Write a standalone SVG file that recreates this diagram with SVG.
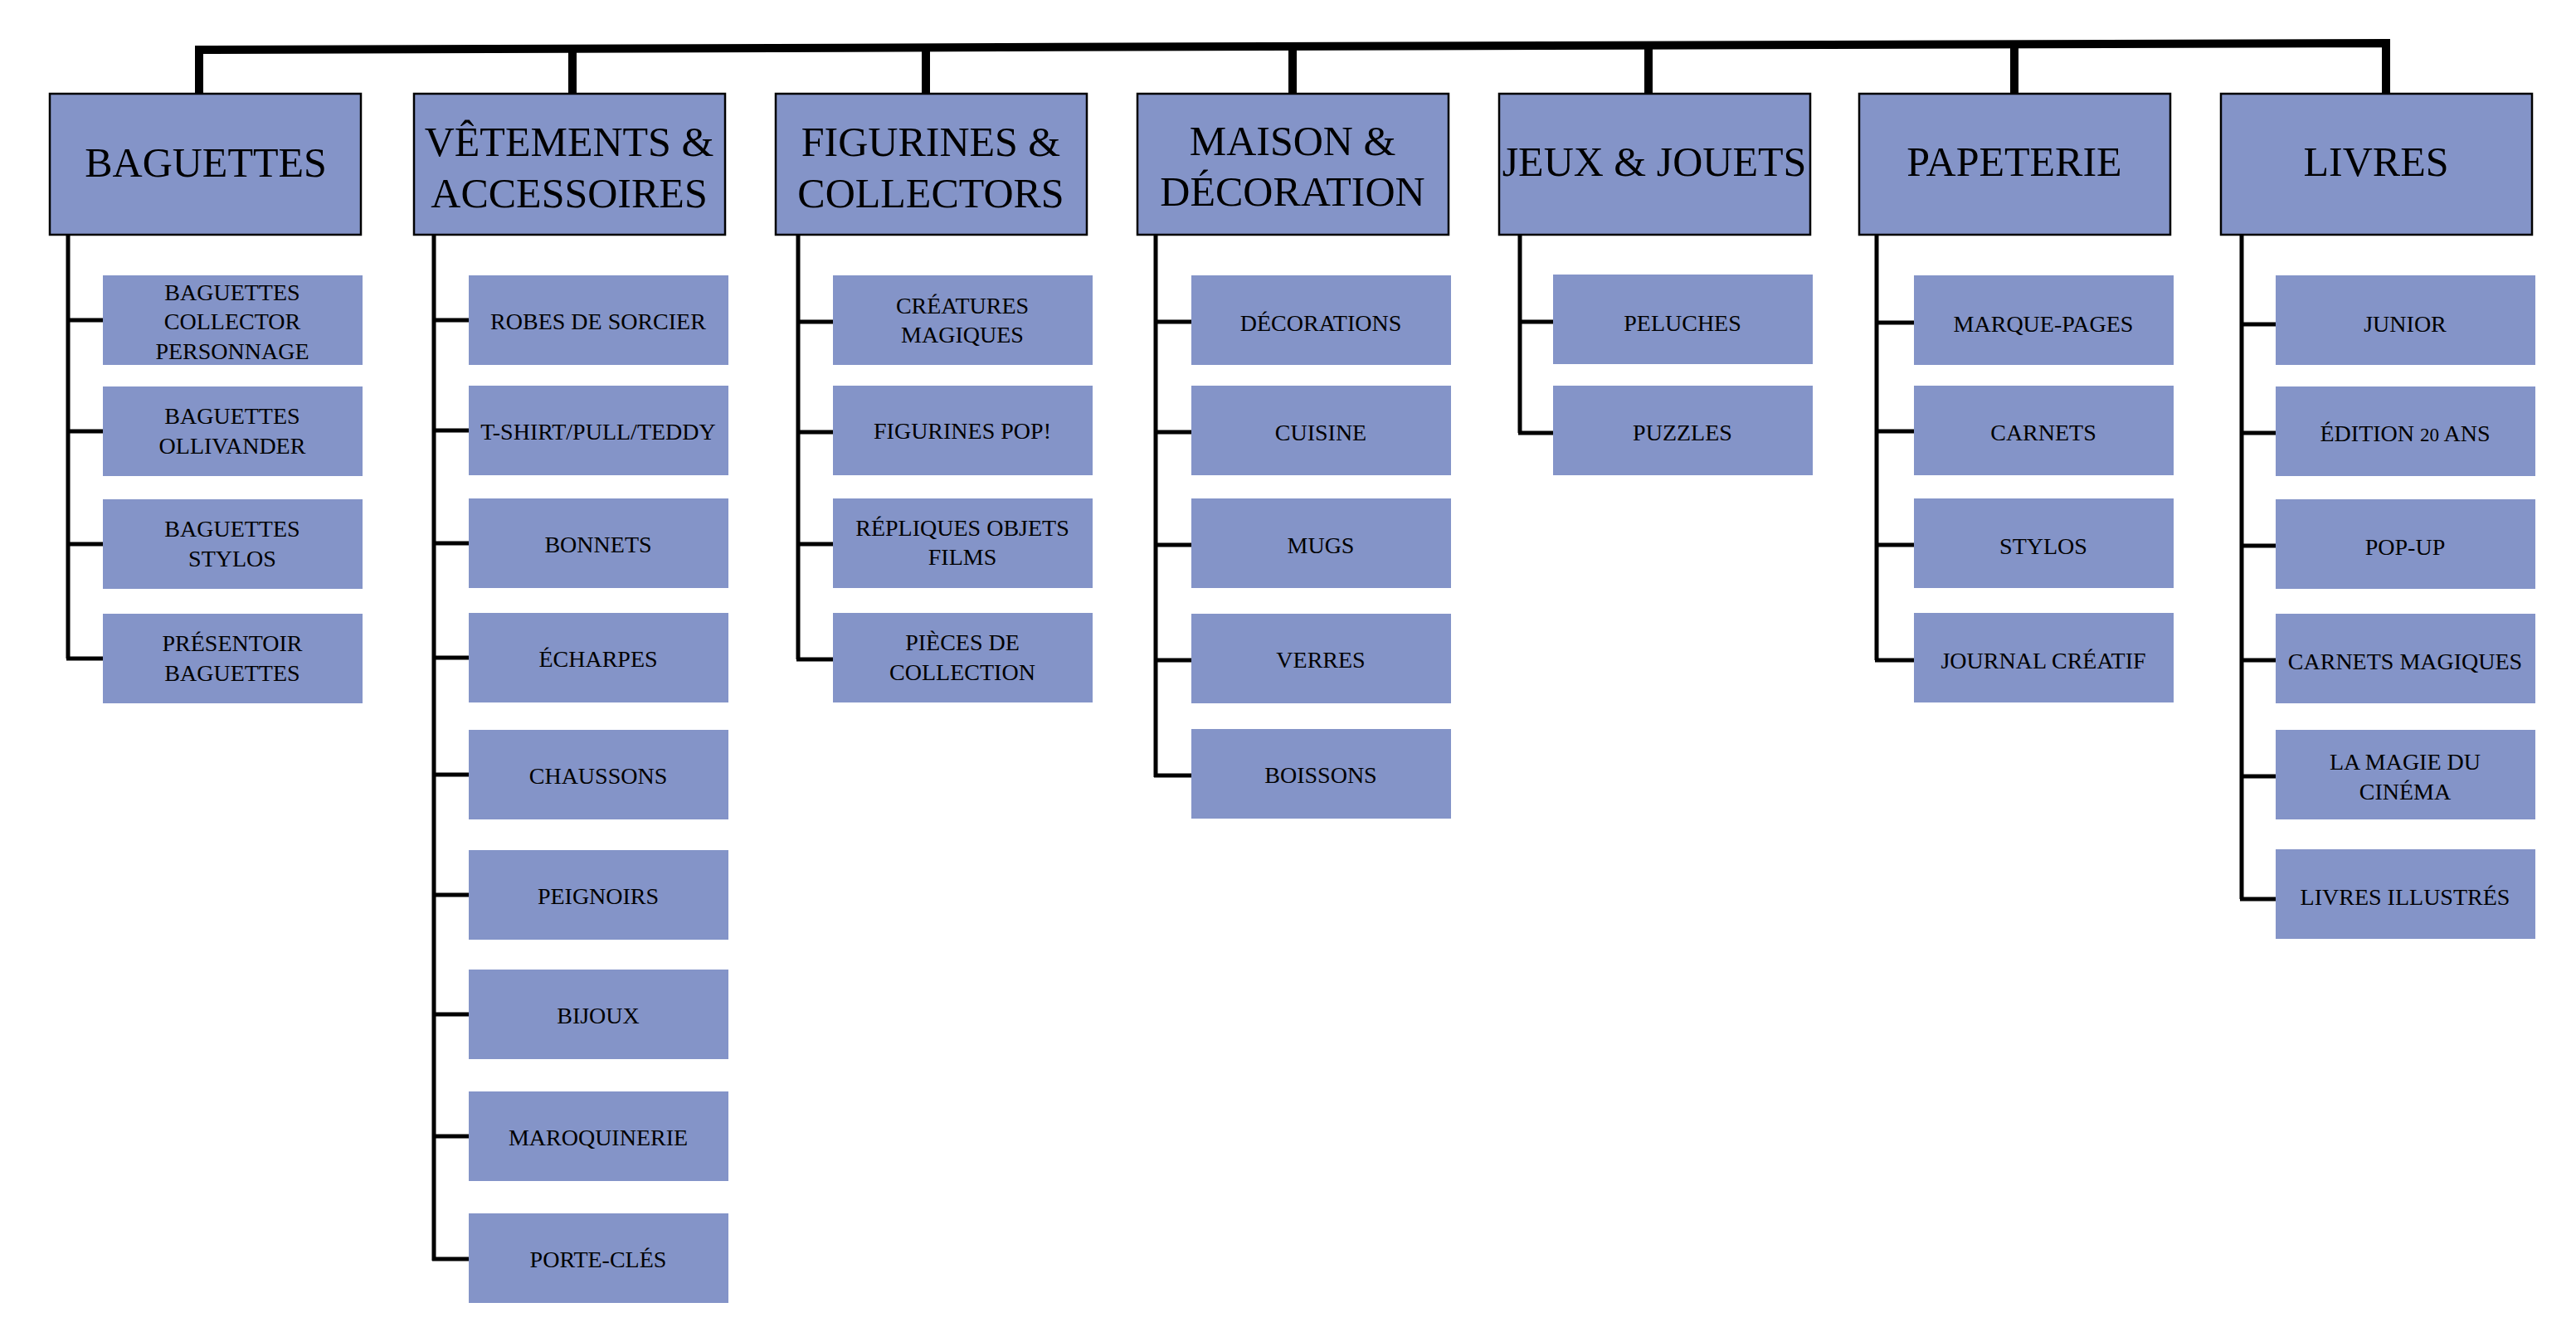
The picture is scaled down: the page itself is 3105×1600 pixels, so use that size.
<svg xmlns="http://www.w3.org/2000/svg" width="3105" height="1600" viewBox="0 0 3105 1600">
<style>
.p{fill:#8494C8;stroke:#000;stroke-width:2.5}
.c{fill:#8494C8}
.pt{font-family:"Liberation Serif","DejaVu Serif",serif;font-size:50px;fill:#000;text-anchor:middle}
.ct{font-family:"Liberation Serif","DejaVu Serif",serif;font-size:28px;fill:#000;text-anchor:middle}
.bar{fill:none;stroke:#000;stroke-width:10;stroke-linejoin:miter}
.sp{fill:none;stroke:#000;stroke-width:5}
</style>
<rect width="3105" height="1600" fill="#fff"/>
<g id="connectors">
<polyline class="bar" points="240,113 240,60 2876,52 2876,113"/>
<line class="bar" x1="690" y1="58" x2="690" y2="113"/>
<line class="bar" x1="1116" y1="57" x2="1116" y2="113"/>
<line class="bar" x1="1558" y1="56" x2="1558" y2="113"/>
<line class="bar" x1="1987" y1="55" x2="1987" y2="113"/>
<line class="bar" x1="2428" y1="53" x2="2428" y2="113"/>
<polyline class="sp" points="82,283 82,794"/>
<line class="sp" x1="80" y1="386" x2="124" y2="386"/>
<line class="sp" x1="80" y1="520" x2="124" y2="520"/>
<line class="sp" x1="80" y1="656" x2="124" y2="656"/>
<line class="sp" x1="80" y1="794" x2="124" y2="794"/>
<polyline class="sp" points="523,283 523,1520"/>
<line class="sp" x1="521" y1="386" x2="565" y2="386"/>
<line class="sp" x1="521" y1="519" x2="565" y2="519"/>
<line class="sp" x1="521" y1="655" x2="565" y2="655"/>
<line class="sp" x1="521" y1="793" x2="565" y2="793"/>
<line class="sp" x1="521" y1="934" x2="565" y2="934"/>
<line class="sp" x1="521" y1="1079" x2="565" y2="1079"/>
<line class="sp" x1="521" y1="1223" x2="565" y2="1223"/>
<line class="sp" x1="521" y1="1370" x2="565" y2="1370"/>
<line class="sp" x1="521" y1="1518" x2="565" y2="1518"/>
<polyline class="sp" points="962,283 962,795"/>
<line class="sp" x1="960" y1="388" x2="1004" y2="388"/>
<line class="sp" x1="960" y1="521" x2="1004" y2="521"/>
<line class="sp" x1="960" y1="656" x2="1004" y2="656"/>
<line class="sp" x1="960" y1="795" x2="1004" y2="795"/>
<polyline class="sp" points="1393,283 1393,937"/>
<line class="sp" x1="1391" y1="388" x2="1436" y2="388"/>
<line class="sp" x1="1391" y1="521" x2="1436" y2="521"/>
<line class="sp" x1="1391" y1="657" x2="1436" y2="657"/>
<line class="sp" x1="1391" y1="796" x2="1436" y2="796"/>
<line class="sp" x1="1391" y1="935" x2="1436" y2="935"/>
<polyline class="sp" points="1832,283 1832,522"/>
<line class="sp" x1="1830" y1="388" x2="1872" y2="388"/>
<line class="sp" x1="1830" y1="522" x2="1872" y2="522"/>
<polyline class="sp" points="2262,283 2262,796"/>
<line class="sp" x1="2260" y1="389" x2="2307" y2="389"/>
<line class="sp" x1="2260" y1="520" x2="2307" y2="520"/>
<line class="sp" x1="2260" y1="657" x2="2307" y2="657"/>
<line class="sp" x1="2260" y1="796" x2="2307" y2="796"/>
<polyline class="sp" points="2702,283 2702,1084"/>
<line class="sp" x1="2700" y1="391" x2="2743" y2="391"/>
<line class="sp" x1="2700" y1="522" x2="2743" y2="522"/>
<line class="sp" x1="2700" y1="658" x2="2743" y2="658"/>
<line class="sp" x1="2700" y1="796" x2="2743" y2="796"/>
<line class="sp" x1="2700" y1="936" x2="2743" y2="936"/>
<line class="sp" x1="2700" y1="1084" x2="2743" y2="1084"/>
</g>
<g id="n-baguettes"><rect class="p" x="60" y="113" width="375" height="170"/><text class="pt" x="248" y="213">BAGUETTES</text></g>
<g id="n-vetements"><rect class="p" x="499" y="113" width="375" height="170"/><text class="pt" x="686" y="188">VÊTEMENTS &amp;</text><text class="pt" x="686" y="250">ACCESSOIRES</text></g>
<g id="n-figurines"><rect class="p" x="935" y="113" width="375" height="170"/><text class="pt" x="1122" y="188">FIGURINES &amp;</text><text class="pt" x="1122" y="250">COLLECTORS</text></g>
<g id="n-maison"><rect class="p" x="1371" y="113" width="375" height="170"/><text class="pt" x="1558" y="187">MAISON &amp;</text><text class="pt" x="1558" y="248">DÉCORATION</text></g>
<g id="n-jeux"><rect class="p" x="1807" y="113" width="375" height="170"/><text class="pt" x="1994" y="212">JEUX &amp; JOUETS</text></g>
<g id="n-papeterie"><rect class="p" x="2241" y="113" width="375" height="170"/><text class="pt" x="2428" y="212">PAPETERIE</text></g>
<g id="n-livres"><rect class="p" x="2677" y="113" width="375" height="170"/><text class="pt" x="2864" y="212">LIVRES</text></g>

<g id="c-bag-1"><rect class="c" x="124" y="332" width="313" height="108"/><text class="ct" x="280" y="362">BAGUETTES</text><text class="ct" x="280" y="397">COLLECTOR</text><text class="ct" x="280" y="433">PERSONNAGE</text></g>
<g id="c-bag-2"><rect class="c" x="124" y="466" width="313" height="108"/><text class="ct" x="280" y="511">BAGUETTES</text><text class="ct" x="280" y="547">OLLIVANDER</text></g>
<g id="c-bag-3"><rect class="c" x="124" y="602" width="313" height="108"/><text class="ct" x="280" y="647">BAGUETTES</text><text class="ct" x="280" y="683">STYLOS</text></g>
<g id="c-bag-4"><rect class="c" x="124" y="740" width="313" height="108"/><text class="ct" x="280" y="785">PRÉSENTOIR</text><text class="ct" x="280" y="821">BAGUETTES</text></g>

<g id="c-vet-1"><rect class="c" x="565" y="332" width="313" height="108"/><text class="ct" x="721" y="397">ROBES DE SORCIER</text></g>
<g id="c-vet-2"><rect class="c" x="565" y="465" width="313" height="108"/><text class="ct" x="721" y="530">T-SHIRT/PULL/TEDDY</text></g>
<g id="c-vet-3"><rect class="c" x="565" y="601" width="313" height="108"/><text class="ct" x="721" y="666">BONNETS</text></g>
<g id="c-vet-4"><rect class="c" x="565" y="739" width="313" height="108"/><text class="ct" x="721" y="804">ÉCHARPES</text></g>
<g id="c-vet-5"><rect class="c" x="565" y="880" width="313" height="108"/><text class="ct" x="721" y="945">CHAUSSONS</text></g>
<g id="c-vet-6"><rect class="c" x="565" y="1025" width="313" height="108"/><text class="ct" x="721" y="1090">PEIGNOIRS</text></g>
<g id="c-vet-7"><rect class="c" x="565" y="1169" width="313" height="108"/><text class="ct" x="721" y="1234">BIJOUX</text></g>
<g id="c-vet-8"><rect class="c" x="565" y="1316" width="313" height="108"/><text class="ct" x="721" y="1381">MAROQUINERIE</text></g>
<g id="c-vet-9"><rect class="c" x="565" y="1463" width="313" height="108"/><text class="ct" x="721" y="1528">PORTE-CLÉS</text></g>

<g id="c-fig-1"><rect class="c" x="1004" y="332" width="313" height="108"/><text class="ct" x="1160" y="378">CRÉATURES</text><text class="ct" x="1160" y="413">MAGIQUES</text></g>
<g id="c-fig-2"><rect class="c" x="1004" y="465" width="313" height="108"/><text class="ct" x="1160" y="529">FIGURINES POP!</text></g>
<g id="c-fig-3"><rect class="c" x="1004" y="601" width="313" height="108"/><text class="ct" x="1160" y="646">RÉPLIQUES OBJETS</text><text class="ct" x="1160" y="681">FILMS</text></g>
<g id="c-fig-4"><rect class="c" x="1004" y="739" width="313" height="108"/><text class="ct" x="1160" y="784">PIÈCES DE</text><text class="ct" x="1160" y="820">COLLECTION</text></g>

<g id="c-mai-1"><rect class="c" x="1436" y="332" width="313" height="108"/><text class="ct" x="1592" y="399">DÉCORATIONS</text></g>
<g id="c-mai-2"><rect class="c" x="1436" y="465" width="313" height="108"/><text class="ct" x="1592" y="531">CUISINE</text></g>
<g id="c-mai-3"><rect class="c" x="1436" y="601" width="313" height="108"/><text class="ct" x="1592" y="667">MUGS</text></g>
<g id="c-mai-4"><rect class="c" x="1436" y="740" width="313" height="108"/><text class="ct" x="1592" y="805">VERRES</text></g>
<g id="c-mai-5"><rect class="c" x="1436" y="879" width="313" height="108"/><text class="ct" x="1592" y="944">BOISSONS</text></g>

<g id="c-jeu-1"><rect class="c" x="1872" y="331" width="313" height="108"/><text class="ct" x="2028" y="399">PELUCHES</text></g>
<g id="c-jeu-2"><rect class="c" x="1872" y="465" width="313" height="108"/><text class="ct" x="2028" y="531">PUZZLES</text></g>

<g id="c-pap-1"><rect class="c" x="2307" y="332" width="313" height="108"/><text class="ct" x="2463" y="400">MARQUE-PAGES</text></g>
<g id="c-pap-2"><rect class="c" x="2307" y="465" width="313" height="108"/><text class="ct" x="2463" y="531">CARNETS</text></g>
<g id="c-pap-3"><rect class="c" x="2307" y="601" width="313" height="108"/><text class="ct" x="2463" y="668">STYLOS</text></g>
<g id="c-pap-4"><rect class="c" x="2307" y="739" width="313" height="108"/><text class="ct" x="2463" y="806">JOURNAL CRÉATIF</text></g>

<g id="c-liv-1"><rect class="c" x="2743" y="332" width="313" height="108"/><text class="ct" x="2899" y="400">JUNIOR</text></g>
<g id="c-liv-2"><rect class="c" x="2743" y="466" width="313" height="108"/><text class="ct" x="2899" y="532">ÉDITION <tspan font-size="23px">20</tspan> ANS</text></g>
<g id="c-liv-3"><rect class="c" x="2743" y="602" width="313" height="108"/><text class="ct" x="2899" y="669">POP-UP</text></g>
<g id="c-liv-4"><rect class="c" x="2743" y="740" width="313" height="108"/><text class="ct" x="2899" y="807">CARNETS MAGIQUES</text></g>
<g id="c-liv-5"><rect class="c" x="2743" y="880" width="313" height="108"/><text class="ct" x="2899" y="928">LA MAGIE DU</text><text class="ct" x="2899" y="964">CINÉMA</text></g>
<g id="c-liv-6"><rect class="c" x="2743" y="1024" width="313" height="108"/><text class="ct" x="2899" y="1091">LIVRES ILLUSTRÉS</text></g>
</svg>
